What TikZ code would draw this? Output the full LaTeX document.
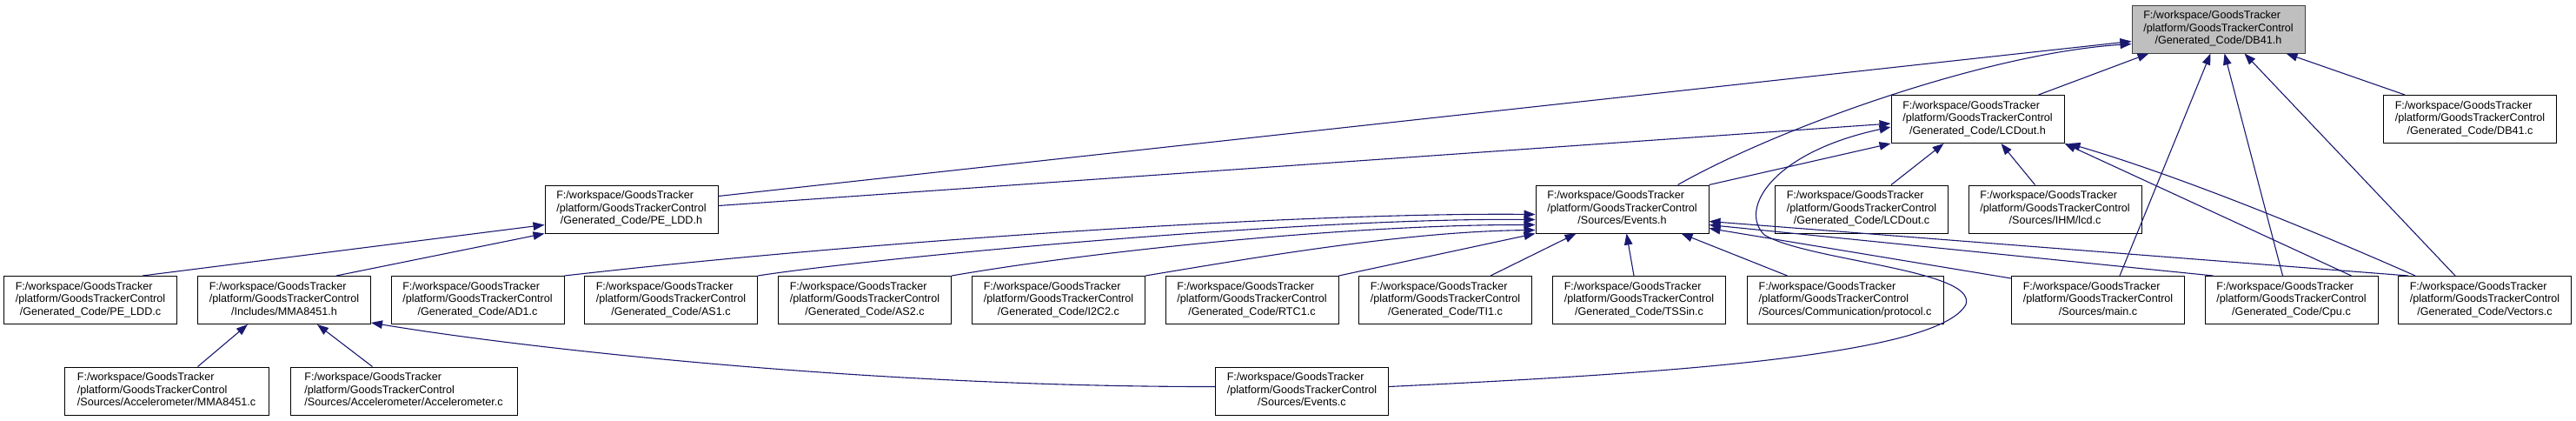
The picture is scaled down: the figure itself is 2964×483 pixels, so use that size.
\documentclass[tikz,border=0pt]{standalone}
\usepackage{fontspec}
\setmainfont{Liberation Sans}
\usetikzlibrary{arrows.meta, positioning, calc}

\definecolor{edgeblue}{HTML}{191970}
\definecolor{curgray}{HTML}{BFBFBF}

\tikzset{
  file/.style={draw=black, fill=white, line width=1pt, minimum height=55pt,
    minimum width=199pt, inner sep=0pt, font=\fontsize{12.6}{14.5}\selectfont},
  curfile/.style={file, draw=black!75, fill=curgray},
  dep/.style={draw=edgeblue, line width=1.1pt,
    -{Triangle[length=13pt,width=9.5pt]}},
}

% three line label of a file
\newcommand{\gpath}[1]{\begin{tabular}{@{}l@{}}F:/workspace/GoodsTracker\\
  /platform/GoodsTrackerControl\\\multicolumn{1}{@{}c@{}}{#1}\end{tabular}}

\begin{document}
\begin{tikzpicture}[x=1pt, y=-1pt]

    \useasboundingbox (0,0) rectangle (2964,483);

    % --- Row 0 ---
    \node[curfile] (dbh) at (2552.5,33.5) {\gpath{/Generated\_Code/DB41.h}};

    % --- Row 1 ---
    \node[file] (lch) at (2275.5,137) {\gpath{/Generated\_Code/LCDout.h}};
    \node[file] (dbc) at (2842,137) {\gpath{/Generated\_Code/DB41.c}};

    % --- Row 2 ---
    \node[file] (peh)  at (726.5,240.5)  {\gpath{/Generated\_Code/PE\_LDD.h}};
    \node[file] (evh)  at (1866.5,240.5) {\gpath{/Sources/Events.h}};
    \node[file] (lcc)  at (2142,240.5)   {\gpath{/Generated\_Code/LCDout.c}};
    \node[file] (lcdc) at (2364.5,240.5) {\gpath{/Sources/IHM/lcd.c}};

    % --- Row 3 ---
    \node[file] (pec)   at (104,345)    {\gpath{/Generated\_Code/PE\_LDD.c}};
    \node[file] (mmah)  at (327,345)    {\gpath{/Includes/MMA8451.h}};
    \node[file] (adc)   at (549.5,345)  {\gpath{/Generated\_Code/AD1.c}};
    \node[file] (as1c)  at (772,345)    {\gpath{/Generated\_Code/AS1.c}};
    \node[file] (as2c)  at (995,345)    {\gpath{/Generated\_Code/AS2.c}};
    \node[file] (i2cc)  at (1218,345)   {\gpath{/Generated\_Code/I2C2.c}};
    \node[file] (rtcc)  at (1440.5,345) {\gpath{/Generated\_Code/RTC1.c}};
    \node[file] (tic)   at (1663,345)   {\gpath{/Generated\_Code/TI1.c}};
    \node[file] (tssc)  at (1886,345)   {\gpath{/Generated\_Code/TSSin.c}};
    \node[file, minimum width=226pt] (protc) at (2123,345)
        {\gpath{/Sources/Communication/protocol.c}};
    \node[file] (mainc) at (2414,345)   {\gpath{/Sources/main.c}};
    \node[file] (cpuc)  at (2636.5,345) {\gpath{/Generated\_Code/Cpu.c}};
    \node[file] (vecc)  at (2859,345)   {\gpath{/Generated\_Code/Vectors.c}};

    % --- Row 4 ---
    \node[file, minimum width=235pt] (mmac) at (191.5,449.5)
        {\gpath{/Sources/Accelerometer/MMA8451.c}};
    \node[file, minimum width=261pt] (accc) at (464.5,449.5)
        {\gpath{/Sources/Accelerometer/Accelerometer.c}};
    \node[file] (evc) at (1498,449.5) {\gpath{/Sources/Events.c}};

    % --- Edges into DB41.h ---
    \draw[dep] ($(peh.north east)+(0,13)$) -- ($(dbh.north west)+(0,42)$);
    \draw[dep] ($(evh.north east)+(-36,0)$) .. controls (2040,150) and (2280,62) .. ($(dbh.north west)+(0,45)$);
    \draw[dep] ($(lch.north east)+(-30,0)$) -- ($(dbh.south west)+(20,0)$);
    \draw[dep] ($(dbc.north west)+(25,0)$) -- ($(dbh.south east)+(-22,0)$);
    \draw[dep] ($(mainc.north east)+(-75,0)$) -- ($(dbh.south west)+(91,0)$);
    \draw[dep] ($(cpuc.north west)+(90,0)$) -- ($(dbh.south west)+(107,0)$);
    \draw[dep] ($(vecc.north west)+(66,0)$) -- ($(dbh.south west)+(130,0)$);

    % --- Edges into LCDout.h ---
    \draw[dep] ($(peh.north east)+(0,24)$) -- ($(lch.north west)+(0,33)$);
    \draw[dep] (evh.north east) -- (lch.south west);
    \draw[dep] ($(lcc.north west)+(134,0)$) -- ($(lch.south west)+(61,0)$);
    \draw[dep] ($(lcdc.north west)+(77,0)$) -- ($(lch.south west)+(127,0)$);
    \draw[dep] ($(cpuc.north west)+(169,0)$) -- (lch.south east);
    \draw[dep] ($(vecc.north west)+(20,0)$) .. controls (2650,260) and (2500,200) .. ($(lch.south east)+(5,0)$);
    \draw[dep] ($(evc.north east)+(0,23)$) .. controls (1900,430) and (2230,410) .. (2262,350)
        .. controls (2275,310) and (2080,300) .. (2030,270)
        .. controls (2000,240) and (2040,175) .. ($(lch.north west)+(0,37)$);

    % --- Edges into Events.h ---
    \draw[dep] (adc.north east) .. controls (1000,277) and (1500,244) .. ($(evh.south west)+(0,-22)$);
    \draw[dep] (as1c.north east) .. controls (1000,297) and (1500,250) .. ($(evh.south west)+(0,-16)$);
    \draw[dep] (as2c.north east) .. controls (1250,290) and (1550,258) .. ($(evh.south west)+(0,-10)$);
    \draw[dep] (i2cc.north east) .. controls (1450,295) and (1620,266) .. ($(evh.south west)+(0,-4)$);
    \draw[dep] (rtcc.north east) -- (evh.south west);
    \draw[dep] ($(tic.north west)+(152,0)$) -- ($(evh.south west)+(47,0)$);
    \draw[dep] ($(tssc.north west)+(94,0)$) -- ($(evh.south west)+(105,0)$);
    \draw[dep] ($(protc.north west)+(47,0)$) -- ($(evh.south west)+(168,0)$);
    \draw[dep] ($(mainc.north west)+(0,3)$) -- ($(evh.south east)+(0,-6)$);
    \draw[dep] ($(cpuc.north west)+(10,0)$) -- ($(evh.south east)+(0,-10)$);
    \draw[dep] ($(vecc.north west)+(12,0)$) -- ($(evh.south east)+(0,-14)$);

    % --- Edges into PE_LDD.h ---
    \draw[dep] ($(pec.north east)+(-40,0)$) -- ($(peh.south west)+(0,-10)$);
    \draw[dep] ($(mmah.north east)+(-40,0)$) -- (peh.south west);

    % --- Edges into MMA8451.h ---
    \draw[dep] ($(mmac.north west)+(154,0)$) -- ($(mmah.south west)+(58,0)$);
    \draw[dep] ($(accc.north west)+(95,0)$) -- ($(mmah.south west)+(138,0)$);
    \draw[dep] ($(evc.north west)+(0,23)$) .. controls (1000,445) and (600,400) .. ($(mmah.south east)+(0,-2)$);

\end{tikzpicture}
\end{document}
